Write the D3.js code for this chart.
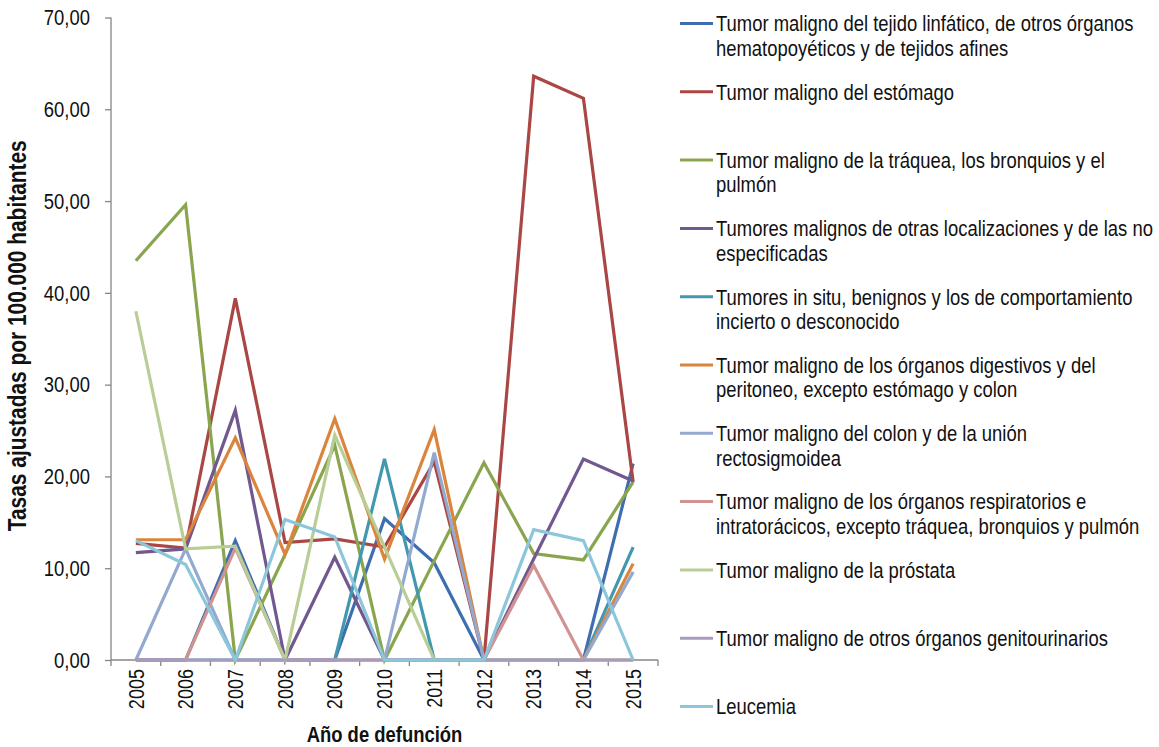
<!DOCTYPE html>
<html>
<head>
<meta charset="utf-8">
<script src="https://cdn.jsdelivr.net/npm/d3@7"></script>
<style>
  html, body { margin: 0; padding: 0; background: #fff; }
  svg { display: block; }
  text { font-family: "Liberation Sans", Arial, sans-serif; }
</style>
</head>
<body>
<svg id="chart" width="1159" height="747"></svg>
<script>
// ---- Data ----
const years = ["2005","2006","2007","2008","2009","2010","2011","2012","2013","2014","2015"];
const yTickValues = [0, 10, 20, 30, 40, 50, 60, 70];

const seriesNames = [
  "Tumor maligno del tejido linfático, de otros órganos|hematopoyéticos y de tejidos afines",
  "Tumor maligno del estómago",
  "Tumor maligno de la tráquea, los bronquios y el|pulmón",
  "Tumores malignos de otras localizaciones y de las no|especificadas",
  "Tumores in situ, benignos y los de comportamiento|incierto o desconocido",
  "Tumor maligno de los órganos digestivos y del|peritoneo, excepto estómago y colon",
  "Tumor maligno del colon y de la unión|rectosigmoidea",
  "Tumor maligno de los órganos respiratorios e|intratorácicos, excepto tráquea, bronquios y pulmón",
  "Tumor maligno de la próstata",
  "Tumor maligno de otros órganos genitourinarios",
  "Leucemia"
];
const seriesColors = ["#3E6DB0","#AA4643","#89A54E","#71588F","#4198AF","#DB843D","#93A9CF","#D19392","#B9CD96","#A99BBD","#8CC6DA"];

const linfatico     = [0, 0, 13.0, 0, 0, 15.4, 10.6, 0, 0, 0, 21.4];
const estomago      = [12.7, 12.2, 39.4, 12.8, 13.2, 12.3, 21.6, 0, 63.6, 61.2, 19.4];
const traquea       = [43.5, 49.6, 0, 11.5, 23.4, 0, 10.8, 21.5, 11.6, 10.9, 19.4];
const otras         = [11.7, 12.1, 27.2, 0, 11.2, 0, 0, 0, 11.0, 21.9, 19.5];
const insitu        = [0, 0, 0, 0, 0, 21.9, 0, 0, 0, 0, 12.3];
const digestivos    = [13.1, 13.1, 24.2, 11.5, 26.3, 11.0, 25.1, 0, 0, 0, 10.5];
const colon         = [0, 12.1, 0, 0, 0, 0, 22.6, 0, 0, 0, 9.6];
const respiratorios = [0, 0, 12.2, 0, 0, 0, 0, 0, 10.3, 0, 0];
const prostata      = [38.0, 12.1, 12.4, 0, 24.5, 12.3, 0, 0, 0, 0, 0];
const genito        = [0, 0, 0, 0, 0, 0, 0, 0, 0, 0, 0];
const leucemia      = [13.0, 10.4, 0, 15.3, 13.4, 0, 0, 0, 14.2, 13.0, 0];

const seriesValues = [linfatico, estomago, traquea, otras, insitu, digestivos, colon, respiratorios, prostata, genito, leucemia];

// ---- Chart ----
const svg = d3.select("#chart");
const axisColor = "#868686";
const textColor = "#111111";
const narrow = 0.82; // horizontal squeeze to mimic a narrow face
const plotLeft = 111, plotRight = 658, plotTop = 17.5, plotBottom = 660;

const x = d3.scaleBand().domain(years).range([plotLeft, plotRight]).paddingInner(0).paddingOuter(0);
const y = d3.scaleLinear().domain([0, 70]).range([plotBottom, plotTop]);
const cx = d => x(d) + x.bandwidth() / 2;

// Y axis
const yAxis = svg.append("g")
  .attr("transform", `translate(${plotLeft},0)`)
  .call(d3.axisLeft(y).tickValues(yTickValues).tickSize(6).tickPadding(15)
    .tickFormat(d => d3.format(".2f")(d).replace(".", ",")));
yAxis.select(".domain").attr("stroke", axisColor).attr("stroke-width", 1.3).attr("d", `M0,${plotTop}V${plotBottom}`);
yAxis.selectAll(".tick line").attr("stroke", axisColor).attr("stroke-width", 1.3);
yAxis.selectAll(".tick text")
  .attr("font-family", "Liberation Sans, Arial, sans-serif")
  .attr("font-size", 22.5).attr("fill", textColor)
  .attr("x", 0)
  .attr("transform", `translate(-21,0) scale(${narrow},1)`);

// X axis
const xAxis = svg.append("g")
  .attr("transform", `translate(0,${plotBottom})`)
  .call(d3.axisBottom(x).tickSize(0).tickPadding(0));
xAxis.select(".domain").attr("stroke", axisColor).attr("stroke-width", 1.3).attr("d", `M${plotLeft},0H${plotRight}`);
xAxis.selectAll(".tick text")
  .attr("font-family", "Liberation Sans, Arial, sans-serif")
  .attr("font-size", 22)
  .attr("fill", textColor)
  .attr("text-anchor", "end")
  .attr("dy", "0.35em")
  .attr("transform", `translate(0,9) rotate(-90) scale(${narrow},1)`)
  .attr("x", 0).attr("y", 0);
// boundary tick marks between categories
xAxis.selectAll(".btick")
  .data(d3.range(years.length + 1))
  .join("line")
  .attr("class", "btick")
  .attr("x1", i => plotLeft + i * x.step())
  .attr("x2", i => plotLeft + i * x.step())
  .attr("y1", 0).attr("y2", 6)
  .attr("stroke", axisColor).attr("stroke-width", 1.3);

// Axis titles
svg.append("text")
  .attr("transform", `translate(26,${(plotTop + plotBottom) / 2 - 3}) rotate(-90) scale(${narrow},1)`)
  .attr("text-anchor", "middle")
  .attr("font-weight", "bold")
  .attr("font-size", 25.5)
  .attr("fill", textColor)
  .text("Tasas ajustadas por 100.000 habitantes");

svg.append("text")
  .attr("transform", `translate(${(plotLeft + plotRight) / 2},742) scale(${narrow},1)`)
  .attr("text-anchor", "middle")
  .attr("font-weight", "bold")
  .attr("font-size", 22.5)
  .attr("fill", textColor)
  .text("Año de defunción");

// Lines
const line = d3.line().x((d, i) => cx(years[i])).y(d => y(d));
svg.append("g").selectAll("path")
  .data(seriesValues)
  .join("path")
  .attr("d", d => line(d))
  .attr("fill", "none")
  .attr("stroke", (d, i) => seriesColors[i])
  .attr("stroke-width", 3.2)
  .attr("stroke-linejoin", "miter");

// Legend
const legend = svg.append("g");
const legY0 = 23.5, legStep = 68.3;
seriesNames.forEach((name, i) => {
  const g = legend.append("g").attr("transform", `translate(680,${legY0 + i * legStep})`);
  g.append("line").attr("x1", 0).attr("x2", 33).attr("y1", 0).attr("y2", 0)
    .attr("stroke", seriesColors[i]).attr("stroke-width", 3);
  const t = g.append("text")
    .attr("transform", `translate(36,0) scale(${narrow},1)`)
    .attr("font-size", 22.5).attr("fill", textColor);
  name.split("|").forEach((ln, j) => {
    t.append("tspan").attr("x", 0).attr("y", j * 24.5).attr("dy", "0.35em").text(ln);
  });
});
</script>
</body>
</html>
